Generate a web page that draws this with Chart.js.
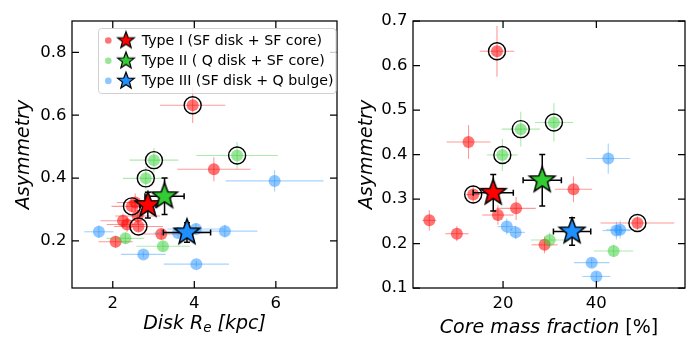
<!DOCTYPE html>
<html>
<head>
<meta charset="utf-8">
<script src="https://cdn.jsdelivr.net/npm/chart.js@4.4.0/dist/chart.umd.min.js"></script>
<style>
  html, body { margin: 0; padding: 0; background: #fff; }
  #wrap { position: relative; width: 700px; height: 350px; }
  canvas { position: absolute; top: 0; }
</style>
</head>
<body>
<div id="wrap">
  <canvas id="left" width="350" height="350" style="left:0"></canvas>
  <canvas id="right" width="350" height="350" style="left:350px"></canvas>
</div>
<script>
// ---- data ----
const typeLabels = ["Type I (SF disk + SF core)", "Type II ( Q disk + SF core)", "Type III (SF disk + Q bulge)"];

// Type I (red)
const redAsym = [0.632, 0.428, 0.31, 0.322, 0.264, 0.279, 0.252, 0.222, 0.197, 0.246];
const redAsymErr = [0.057, 0.038, 0.02, 0.029, 0.022, 0.026, 0.023, 0.017, 0.019, 0.015];
const redCircled = [1, 0, 1, 0, 0, 0, 0, 0, 0, 1];
const redDiskRe = [3.96, 4.48, 2.47, 2.55, 2.25, 2.61, 2.35, 3.19, 2.07, 2.63];
const redDiskReErr = [0.8, 0.9, 0.5, 0.45, 0.55, 0.55, 0.5, 0.5, 0.42, 0.6];
const redCoreFrac = [18.7, 12.6, 13.6, 35.1, 18.9, 22.8, 4.2, 10.1, 28.9, 48.8];
const redCoreFracErr = [3.7, 4.7, 1.5, 4.0, 3.35, 4.2, 1.5, 2.5, 2.8, 7.9];

// Type II (green)
const greenAsym = [0.399, 0.457, 0.472, 0.208, 0.183];
const greenAsymErr = [0.036, 0.039, 0.043, 0.017, 0.014];
const greenCircled = [1, 1, 1, 0, 0];
const greenDiskRe = [2.81, 3.01, 5.05, 2.31, 3.23];
const greenDiskReErr = [0.56, 0.6, 1.0, 0.46, 0.65];
const greenCoreFrac = [19.85, 23.8, 30.9, 30.0, 43.7];
const greenCoreFracErr = [3.3, 4.1, 4.1, 4.0, 4.2];

// Type III (blue)
const blueAsym = [0.391, 0.238, 0.225, 0.229, 0.231, 0.157, 0.126];
const blueAsymErr = [0.034, 0.018, 0.015, 0.02, 0.02, 0.01, 0.01];
const blueDiskRe = [5.97, 4.04, 3.6, 1.66, 4.75, 2.75, 4.05];
const blueDiskReErr = [1.2, 0.7, 0.6, 0.36, 0.8, 0.55, 0.8];
const blueCoreFrac = [42.55, 20.8, 22.7, 44.3, 45.1, 39.0, 40.0];
const blueCoreFracErr = [4.7, 2.0, 2.0, 3.0, 3.0, 3.8, 3.0];

// means (stars), order: Type I, II, III
const meanAsym = [0.314, 0.342, 0.227];
const meanAsymErr = [0.041, 0.058, 0.031];
const meanDiskRe = [2.86, 3.27, 3.82];
const meanDiskReErr = [0.2, 0.48, 0.58];
const meanCoreFrac = [17.9, 28.4, 34.8];
const meanCoreFracErr = [4.3, 4.1, 4.0];

const leftXTicks = [2, 4, 6];
const leftYTicks = [0.2, 0.4, 0.6, 0.8];
const rightXTicks = [20, 40];
const rightYTicks = [0.1, 0.2, 0.3, 0.4, 0.5, 0.6, 0.7];

// ---- styles ----
const FONT = "DejaVu Sans";
const pointCol = ["rgba(255,0,0,0.55)", "rgba(50,205,50,0.5)", "rgba(30,144,255,0.5)"];
const errCol = ["rgba(255,0,0,0.4)", "rgba(50,205,50,0.4)", "rgba(30,144,255,0.4)"];
const starCol = ["#ff0000", "#33cc33", "#1e90ff"];

function starImage(color, R, lw) {
  const s = Math.ceil(2 * R + lw * 2 + 4);
  const c = document.createElement("canvas");
  c.width = s; c.height = s;
  const g = c.getContext("2d");
  const cx = s / 2, cy = s / 2;
  g.beginPath();
  for (let k = 0; k < 10; k++) {
    const r = k % 2 ? R * 0.42 : R;
    const a = -Math.PI / 2 + k * Math.PI / 5;
    g.lineTo(cx + r * Math.cos(a), cy + r * Math.sin(a));
  }
  g.closePath();
  g.fillStyle = color; g.fill();
  g.lineWidth = lw; g.strokeStyle = "#000"; g.lineJoin = "miter"; g.stroke();
  return c;
}
const bigStars = starCol.map(c => starImage(c, 13.5, 1.5));
const smallStars = starCol.map(c => starImage(c, 8.8, 1.2));

const pts = (xs, ys) => xs.map((x, i) => ({ x, y: ys[i] }));
const pick = (arr, flags) => arr.filter((v, i) => flags[i]);

// ---- plugins ----
const errorBars = {
  id: "errorBars",
  beforeDatasetDraw(chart, args) {
    const ds = chart.data.datasets[args.index];
    if (!ds.errX) return;
    const { ctx, chartArea: a, scales: { x, y } } = chart;
    ctx.save();
    ctx.beginPath(); ctx.rect(a.left, a.top, a.right - a.left, a.bottom - a.top); ctx.clip();
    ctx.strokeStyle = ds.errColor; ctx.lineWidth = ds.errWidth;
    ds.data.forEach((p, i) => {
      const cx = x.getPixelForValue(p.x), cy = y.getPixelForValue(p.y);
      const x0 = x.getPixelForValue(p.x - ds.errX[i]), x1 = x.getPixelForValue(p.x + ds.errX[i]);
      const y0 = y.getPixelForValue(p.y - ds.errY[i]), y1 = y.getPixelForValue(p.y + ds.errY[i]);
      ctx.beginPath(); ctx.moveTo(x0, cy); ctx.lineTo(x1, cy); ctx.stroke();
      ctx.beginPath(); ctx.moveTo(cx, y0); ctx.lineTo(cx, y1); ctx.stroke();
      if (ds.errCap) {
        const c = ds.errCap;
        ctx.beginPath();
        ctx.moveTo(x0, cy - c); ctx.lineTo(x0, cy + c);
        ctx.moveTo(x1, cy - c); ctx.lineTo(x1, cy + c);
        ctx.moveTo(cx - c, y0); ctx.lineTo(cx + c, y0);
        ctx.moveTo(cx - c, y1); ctx.lineTo(cx + c, y1);
        ctx.stroke();
      }
    });
    ctx.restore();
  }
};

function drawParts(ctx, parts, cx, baseY) {
  let w = 0;
  parts.forEach(p => { ctx.font = p.font; w += ctx.measureText(p.text).width; });
  let x = cx - w / 2;
  ctx.textAlign = "left"; ctx.textBaseline = "alphabetic";
  parts.forEach(p => {
    ctx.font = p.font;
    ctx.fillText(p.text, x, baseY + (p.dy || 0));
    x += ctx.measureText(p.text).width;
  });
}

const frame = {
  id: "frame",
  afterDraw(chart, args, o) {
    const { ctx, chartArea: a, scales: { x, y } } = chart;
    ctx.save();
    ctx.strokeStyle = "#000"; ctx.lineWidth = 1.25;
    ctx.strokeRect(a.left, a.top, a.right - a.left, a.bottom - a.top);
    const len = 7;
    ctx.beginPath();
    x.ticks.forEach(t => {
      const px = x.getPixelForValue(t.value);
      ctx.moveTo(px, a.bottom); ctx.lineTo(px, a.bottom - len);
      ctx.moveTo(px, a.top); ctx.lineTo(px, a.top + len);
    });
    y.ticks.forEach(t => {
      const py = y.getPixelForValue(t.value);
      ctx.moveTo(a.left, py); ctx.lineTo(a.left + len, py);
      ctx.moveTo(a.right, py); ctx.lineTo(a.right - len, py);
    });
    ctx.stroke();
    ctx.fillStyle = "#000";
    drawParts(ctx, o.xTitle, (a.left + a.right) / 2, o.xTitleY);
    ctx.translate(o.yTitleX, (a.top + a.bottom) / 2);
    ctx.rotate(-Math.PI / 2);
    ctx.font = "italic 19px " + FONT;
    ctx.textAlign = "center"; ctx.textBaseline = "alphabetic";
    ctx.fillText("Asymmetry", 0, 0);
    ctx.restore();
  }
};

const legendBox = {
  id: "legendBox",
  afterDraw(chart, args, o) {
    if (!o.show) return;
    const ctx = chart.ctx;
    ctx.save();
    const bx = 98, by = 28, bw = 237.5, bh = 65;
    ctx.beginPath(); ctx.roundRect(bx + 0.5, by + 0.5, bw, bh, 3);
    ctx.fillStyle = "rgba(255,255,255,0.8)"; ctx.fill();
    ctx.strokeStyle = "#d0d0d0"; ctx.lineWidth = 1; ctx.stroke();
    ctx.font = "14.2px " + FONT;
    ctx.textBaseline = "middle"; ctx.textAlign = "left";
    typeLabels.forEach((lab, i) => {
      const cy = 40.5 + i * 20.2;
      ctx.beginPath(); ctx.arc(108.3, cy, 3.3, 0, Math.PI * 2);
      ctx.fillStyle = pointCol[i]; ctx.fill();
      const s = smallStars[i];
      ctx.drawImage(s, 126 - s.width / 2, cy - s.height / 2);
      ctx.fillStyle = "#000";
      ctx.fillText(lab, 141.7, cy + 0.5);
    });
    ctx.restore();
  }
};

// ---- chart builder ----
function buildDatasets(redX, redXErr, greenX, greenXErr, blueX, blueXErr, meanX, meanXErr) {
  const groups = [
    [redX, redAsym, redXErr, redAsymErr],
    [greenX, greenAsym, greenXErr, greenAsymErr],
    [blueX, blueAsym, blueXErr, blueAsymErr]
  ];
  const sets = [];
  groups.forEach((g, i) => {
    sets.push({
      data: pts(g[0], g[1]), errX: g[2], errY: g[3], errColor: errCol[i], errWidth: 1.1,
      pointRadius: 6, backgroundColor: pointCol[i], borderWidth: 0, order: 5 - i
    });
  });
  sets.push({
    data: pts(pick(redX, redCircled), pick(redAsym, redCircled))
      .concat(pts(pick(greenX, greenCircled), pick(greenAsym, greenCircled))),
    pointRadius: 8.5, backgroundColor: "rgba(0,0,0,0)", borderColor: "#000", borderWidth: 1.4, order: 1
  });
  sets.push({
    data: pts(meanX, meanAsym), errX: meanXErr, errY: meanAsymErr, errColor: "#000", errWidth: 1.5, errCap: 3,
    pointStyle: bigStars, pointRadius: 12, order: 0
  });
  return sets;
}

function makeChart(id, cfg) {
  return new Chart(document.getElementById(id), {
    type: "scatter",
    data: { datasets: cfg.datasets },
    options: {
      responsive: false, animation: false, devicePixelRatio: 1, events: [],
      layout: { padding: { top: 21, right: cfg.padRight, left: 0, bottom: 0 } },
      plugins: {
        legend: { display: false }, tooltip: { enabled: false },
        frame: cfg.frame, legendBox: { show: cfg.legend }
      },
      scales: {
        x: {
          type: "linear", min: cfg.xMin, max: cfg.xMax,
          afterBuildTicks: s => { s.ticks = cfg.xTicks.map(v => ({ value: v })); },
          afterFit: s => { s.height = 62; },
          grid: { display: false, drawTicks: false }, border: { display: false },
          ticks: { color: "#000", font: { family: FONT, size: 16.5 }, padding: 6, maxRotation: 0 }
        },
        y: {
          type: "linear", min: cfg.yMin, max: cfg.yMax,
          afterBuildTicks: s => { s.ticks = cfg.yTicks.map(v => ({ value: v })); },
          afterFit: s => { s.width = cfg.yWidth; },
          grid: { display: false, drawTicks: false }, border: { display: false },
          ticks: { color: "#000", font: { family: FONT, size: 16.5 }, padding: 5.5, callback: v => v.toFixed(1) }
        }
      }
    },
    plugins: [errorBars, frame, legendBox]
  });
}

makeChart("left", {
  datasets: buildDatasets(redDiskRe, redDiskReErr, greenDiskRe, greenDiskReErr, blueDiskRe, blueDiskReErr, meanDiskRe, meanDiskReErr),
  xMin: 1.0, xMax: 7.5, yMin: 0.05, yMax: 0.9, xTicks: leftXTicks, yTicks: leftYTicks,
  yWidth: 72, padRight: 7, legend: true,
  frame: {
    xTitle: [
      { text: "Disk ", font: "italic 19px " + FONT },
      { text: "R", font: "italic 19px " + FONT },
      { text: "e", font: "italic 13.5px " + FONT, dy: 3.5 },
      { text: " [kpc]", font: "italic 19px " + FONT }
    ],
    xTitleY: 328.5, yTitleX: 29
  }
});

makeChart("right", {
  datasets: buildDatasets(redCoreFrac, redCoreFracErr, greenCoreFrac, greenCoreFracErr, blueCoreFrac, blueCoreFracErr, meanCoreFrac, meanCoreFracErr),
  xMin: 0.7, xMax: 59, yMin: 0.1, yMax: 0.7, xTicks: rightXTicks, yTicks: rightYTicks,
  yWidth: 63, padRight: 15, legend: false,
  frame: {
    xTitle: [
      { text: "Core mass fraction ", font: "italic 19px " + FONT },
      { text: "[%]", font: "19px " + FONT }
    ],
    xTitleY: 332.5, yTitleX: 21.5
  }
});
</script>
</body>
</html>
